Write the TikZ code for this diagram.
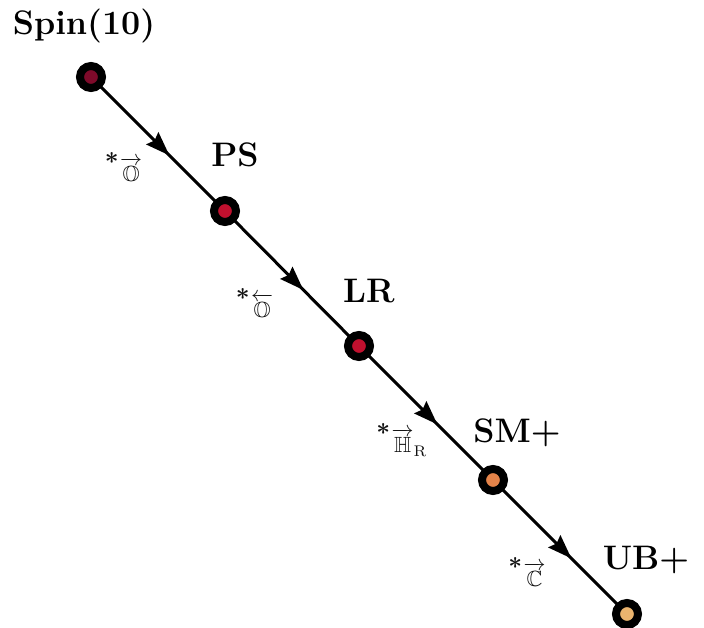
\documentclass[tikz,border=0pt]{standalone}
\usepackage{amssymb}
\usepackage{graphicx}
\usetikzlibrary{arrows.meta,decorations.markings}
\definecolor{cA}{HTML}{7E0A2A}
\definecolor{cB}{HTML}{C0102E}
\definecolor{cC}{HTML}{E5844A}
\definecolor{cD}{HTML}{EBB46E}
\definecolor{lblgray}{HTML}{111111}
\newcommand{\stargl}{\raisebox{11pt}{\scalebox{2.4}{\fontsize{10}{12}\selectfont\bfseries *}}\hspace{1.5pt}}
\newcommand{\mathlbl}[1]{\scalebox{2.2}{\fontsize{10}{12}\selectfont$#1$}}
\newcommand{\liftstrut}{\rule{0pt}{8.4pt}}
\tikzset{
  dot/.style={circle, minimum size=22pt, inner sep=0pt, line width=8pt, draw=black},
  gname/.style={font=\fontsize{34}{40}\selectfont\bfseries},
  elbl/.style={text=lblgray, inner sep=0pt},
  flow/.style={line width=3pt, draw=black,
    postaction={decorate, decoration={markings,
      mark=at position 0.585 with {\arrow{Stealth[length=24pt,width=17pt,inset=3pt]}}}}}
}
\begin{document}
\begin{tikzpicture}[x=1pt,y=-1pt]
\useasboundingbox (0,0) rectangle (704,628);
\coordinate (c1) at (91,77);
\coordinate (c2) at (225,211);
\coordinate (c3) at (359,346);
\coordinate (c4) at (493,480);
\coordinate (c5) at (627,614);
\draw[flow] (c1) -- (c2);
\draw[flow] (c2) -- (c3);
\draw[flow] (c3) -- (c4);
\draw[flow] (c4) -- (c5);
\node[dot, fill=cA] (s10) at (c1) {};
\node[dot, fill=cB] (ps) at (c2) {};
\node[dot, fill=cB] (lr) at (c3) {};
\node[dot, fill=cC] (sm) at (c4) {};
\node[dot, fill=cD] (ub) at (c5) {};
\node[gname] (t1) at (84,26) {Spin(10)};
\node[gname] (t2) at (235,155) {PS};
\node[gname] (t3) at (369,291) {LR};
\node[gname] (t4) at (517,433) {SM+};
\node[gname] (t5) at (646,560) {UB+};
\node[elbl] (e1) at (123.5,169) {\stargl\mathlbl{\overrightarrow{\mkern2mu\mathbb{O}\mkern2mu\liftstrut}}};
\node[elbl] (e2) at (254.5,305) {\stargl\mathlbl{\overleftarrow{\mkern2mu\mathbb{O}\mkern2mu\liftstrut}}};
\node[elbl] (e3) at (402,440) {\stargl\mathlbl{\overrightarrow{\mkern1mu\mathbb{H}\mkern1mu\liftstrut}_{\mathrm{R}}}};
\node[elbl] (e4) at (527,572) {\stargl\mathlbl{\overrightarrow{\mkern2mu\mathbb{C}\mkern2mu\liftstrut}}};
\end{tikzpicture}
\end{document}
